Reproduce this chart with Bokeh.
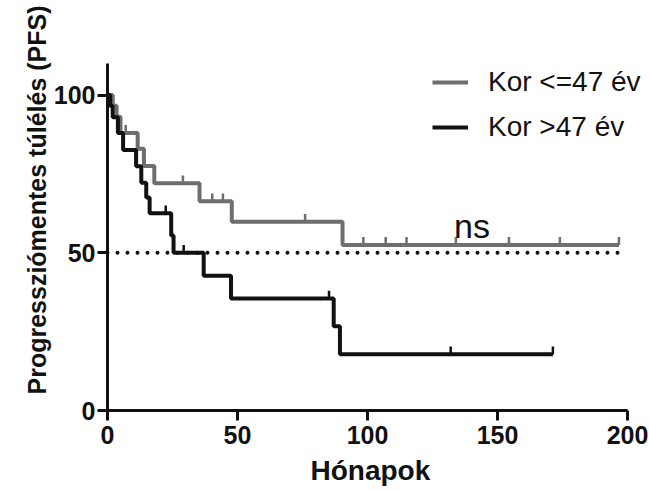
import numpy as np
from bokeh.plotting import figure
from bokeh.models import Range1d, Label, Legend, LegendItem, FixedTicker, Title
from bokeh.embed import file_html
from bokeh.resources import INLINE

# --- data ---
young_label = "Kor <=47 év"
old_label = "Kor >47 év"

young_t = [0, 2, 3.5, 5, 11.6, 14, 18, 35.4, 47.8, 90.4, 196.7]
young_s = [100, 96.6, 93.1, 88, 83, 77.5, 72, 66.3, 59.8, 52.5, 52.5]
young_cens = [7, 29, 40.3, 44.4, 76, 98.4, 107, 115, 134, 154.4, 174, 196.7]

old_t = [0, 1, 2, 4, 6, 11, 13, 14.9, 16.2, 24.5, 25.4, 37, 47.5, 87, 89.4, 171.3]
old_s = [100, 96.5, 93, 88, 82.6, 77.4, 72.2, 67.5, 62.5, 55.5, 50, 42.7, 35.5, 26.7, 17.8, 17.8]
old_cens = [22.4, 29.3, 85.2, 132, 171.3]

x_ticks = [0, 50, 100, 150, 200]
y_ticks = [0, 50, 100]
median_line = 50
x_title = "Hónapok"
y_title = "Progressziómentes túlélés (PFS)"
ns_text = "ns"

GRAY = "#6e6e6e"
BLACK = "#111111"
FONT = "Liberation Sans, Arial, sans-serif"

W, H = 649, 491
LEFT, AXIS_RIGHT, TOP, BOTTOM = 107, 627, 63, 412


def surv_at(times, surv, pts):
    idx = np.searchsorted(np.asarray(times), np.asarray(pts), side="right") - 1
    return np.asarray(surv)[idx]


# frame extends to the right edge so the legend text is not clipped;
# the x axis itself is bounded to 0..200
x_end = x_ticks[-1] * (W - LEFT) / (AXIS_RIGHT - LEFT)
p = figure(width=W, height=H, output_backend="svg", toolbar_location=None,
           x_range=Range1d(0, x_end), y_range=Range1d(0, 110),
           min_border_left=LEFT, min_border_right=0, min_border_top=TOP,
           min_border_bottom=H - BOTTOM)
p.outline_line_color = None
p.xgrid.visible = False
p.ygrid.visible = False
p.background_fill_color = "white"
p.border_fill_color = "white"

# dotted reference line at 50%
p.line([x_ticks[0], x_ticks[-1]], [median_line, median_line], line_color=BLACK,
       line_width=4, line_dash="0 10", line_cap="round")

r_young = p.step(young_t, young_s, mode="after", line_color=GRAY, line_width=4)
r_old = p.step(old_t, old_s, mode="after", line_color=BLACK, line_width=4)

yc = surv_at(young_t, young_s, young_cens)
oc = surv_at(old_t, old_s, old_cens)
c_young = p.scatter(young_cens, yc + 1.2, marker="dash", angle=np.pi / 2, size=8,
                    line_color=GRAY, line_width=2.5)
c_old = p.scatter(old_cens, oc + 1.2, marker="dash", angle=np.pi / 2, size=8,
                  line_color=BLACK, line_width=2.5)

p.add_layout(Label(x=133.3, y=58.4, text=ns_text, text_font=FONT, text_font_size="34px",
                   text_color=BLACK, text_baseline="alphabetic"))

legend = Legend(items=[LegendItem(label=young_label, renderers=[r_young, c_young]),
                       LegendItem(label=old_label, renderers=[r_old, c_old])],
                location=(325, 263), padding=0, margin=0, spacing=5,
                glyph_width=36, glyph_height=40, label_height=40, label_standoff=20,
                label_text_font=FONT, label_text_font_size="28px", label_text_color=BLACK,
                border_line_color=None, background_fill_alpha=0)
p.add_layout(legend, "center")

for ax in (p.xaxis[0], p.yaxis[0]):
    ax.axis_line_width = 3
    ax.axis_line_color = BLACK
    ax.major_tick_line_width = 3
    ax.major_tick_line_color = BLACK
    ax.major_tick_out = 10
    ax.major_tick_in = 0
    ax.minor_tick_line_color = None
    ax.major_label_text_font = FONT
    ax.major_label_text_font_style = "bold"
    ax.major_label_text_font_size = "25px"
    ax.major_label_text_color = BLACK

p.xaxis[0].ticker = FixedTicker(ticks=x_ticks)
p.xaxis[0].bounds = (x_ticks[0], x_ticks[-1])
p.yaxis[0].ticker = FixedTicker(ticks=y_ticks)
p.xaxis[0].major_label_standoff = 5
p.yaxis[0].major_label_standoff = 2

# axis titles as side titles so they can be placed like the reference
p.add_layout(Title(text=y_title, align="left", offset=16, standoff=0,
                   text_font=FONT, text_font_style="bold", text_font_size="25px",
                   text_color=BLACK), "left")
p.add_layout(Title(text=x_title, align="left", offset=203, standoff=12,
                   text_font=FONT, text_font_style="bold", text_font_size="28px",
                   text_color=BLACK), "below")

open("out.html", "w").write(file_html(p, INLINE))
